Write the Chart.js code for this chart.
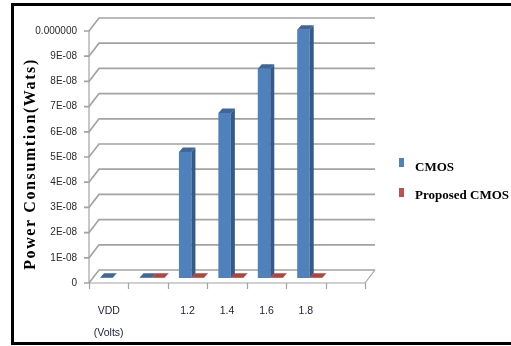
<!DOCTYPE html>
<html>
<head>
<meta charset="utf-8">
<script src="https://cdn.jsdelivr.net/npm/chart.js@4.4.1/dist/chart.umd.min.js"></script>
<style>
  html, body { margin: 0; padding: 0; background: #fff; overflow: hidden; width: 511px; height: 346px; }
  #frame { position: absolute; left: 11px; top: 3px; width: 520px; height: 336px; border: 3px solid #000; }
  #wrap { position: absolute; left: 0; top: 0; width: 511px; height: 346px; }
</style>
</head>
<body>
<div id="frame"></div>
<div id="wrap"><canvas id="c" width="511" height="346"></canvas></div>
<script>
// Supply voltage categories (first slot carries the axis caption)
const categories = [["VDD", "(Volts)"], "", "1.2", "1.4", "1.6", "1.8", ""];

// Power consumption in watts
const cmosPower     = [1e-10, 1e-10, 5.0e-8, 6.55e-8, 8.3e-8, 9.85e-8, null];
const proposedPower = [null, 1e-10, 1e-10, 1e-10, 1e-10, 1e-10, null];

const seriesNames = ["CMOS", "Proposed CMOS"];
const yTickLabels = ["0", "1E-08", "2E-08", "3E-08", "4E-08", "5E-08",
                     "6E-08", "7E-08", "8E-08", "9E-08", "0.000000"];
const yTitle = "Power Consumtion(Wats)";

// pseudo-3D look: back wall offset, bar plane offset and bar depth
const WALL = { x: 10, y: -13 };
const PLANE = { x: 3.85, y: -5 };
const DEPTH = { x: 4, y: -4.5 };
const GRID = "#a3a3a3";
const TICK_FONT = "'Liberation Sans', Arial, sans-serif";

const faceColors = [
  { front: "#4f81bd", side: "#34598a", top: "#3e6698" },
  { front: "#c0504d", side: "#8f3a37", top: "#b0443f" }
];

const box3d = {
  id: "box3d",
  beforeDatasetsDraw(chart) {
    const { ctx, chartArea: a, scales } = chart;
    const ys = scales.y;
    ctx.save();
    ctx.strokeStyle = GRID;
    ctx.lineWidth = 1.7;
    // back wall gridlines with their connectors to the front axis
    ys.ticks.forEach(t => {
      const y = ys.getPixelForValue(t.value);
      ctx.beginPath();
      ctx.moveTo(a.left - 5, y);
      ctx.lineTo(a.left, y);
      ctx.lineTo(a.left + WALL.x, y + WALL.y);
      ctx.lineTo(a.right + WALL.x, y + WALL.y);
      ctx.stroke();
    });
    ctx.lineWidth = 1.2;
    // front value axis
    ctx.beginPath();
    ctx.moveTo(a.left, a.top);
    ctx.lineTo(a.left, a.bottom);
    ctx.stroke();
    // floor front edge and right edge
    ctx.beginPath();
    ctx.moveTo(a.left, a.bottom);
    ctx.lineTo(a.right, a.bottom);
    ctx.lineTo(a.right + WALL.x, a.bottom + WALL.y);
    ctx.stroke();
    // category boundary ticks
    const n = categories.length;
    const cw = (a.right - a.left) / n;
    for (let i = 0; i <= n; i++) {
      const x = Math.round(a.left + i * cw) + 0.5;
      ctx.beginPath();
      ctx.moveTo(x, a.bottom);
      ctx.lineTo(x, a.bottom + 6);
      ctx.stroke();
    }
    ctx.restore();
    // bars sit part way into the depth
    ctx.save();
    ctx.translate(PLANE.x, PLANE.y);
  },
  afterDatasetsDraw(chart) {
    const { ctx } = chart;
    const n = categories.length;
    for (let i = 0; i < n; i++) {
      chart.data.datasets.forEach((ds, di) => {
        const meta = chart.getDatasetMeta(di);
        const el = meta.data[i];
        if (!el || ds.data[i] == null) return;
        const p = el.getProps(["x", "y", "base", "width"], true);
        const l = p.x - p.width / 2, r = p.x + p.width / 2;
        const top = Math.min(p.y, p.base), base = Math.max(p.y, p.base);
        const c = faceColors[di];
        ctx.fillStyle = c.side;
        ctx.beginPath();
        ctx.moveTo(r, top);
        ctx.lineTo(r + DEPTH.x, top + DEPTH.y);
        ctx.lineTo(r + DEPTH.x, base + DEPTH.y);
        ctx.lineTo(r, base);
        ctx.closePath();
        ctx.fill();
        ctx.fillStyle = c.top;
        ctx.beginPath();
        ctx.moveTo(l, top);
        ctx.lineTo(r, top);
        ctx.lineTo(r + DEPTH.x, top + DEPTH.y);
        ctx.lineTo(l + DEPTH.x, top + DEPTH.y);
        ctx.closePath();
        ctx.fill();
      });
    }
    ctx.restore();
  },
  afterDraw(chart) {
    const { ctx } = chart;
    ctx.save();
    // value axis title
    ctx.translate(31, 164);
    ctx.rotate(-Math.PI / 2);
    ctx.font = "bold 16px 'Liberation Serif', 'Times New Roman', serif";
    if ("letterSpacing" in ctx) ctx.letterSpacing = "1.6px";
    ctx.fillStyle = "#000";
    ctx.textAlign = "center";
    ctx.textBaseline = "middle";
    ctx.fillText(yTitle, 0, 0);
    ctx.restore();
    // legend
    ctx.save();
    ctx.font = "bold 13px 'Liberation Serif', 'Times New Roman', serif";
    ctx.textBaseline = "middle";
    ctx.textAlign = "left";
    const rows = [{ sq: 158, ty: 168 }, { sq: 188, ty: 196 }];
    chart.data.datasets.forEach((ds, di) => {
      ctx.fillStyle = ds.backgroundColor;
      ctx.fillRect(399, rows[di].sq, 5, 9);
      ctx.fillStyle = "#000";
      ctx.fillText(ds.label, 415, rows[di].ty);
    });
    ctx.restore();
  }
};

new Chart(document.getElementById("c"), {
  type: "bar",
  data: {
    labels: categories,
    datasets: [
      { label: seriesNames[0], data: cmosPower, backgroundColor: faceColors[0].front, clip: false },
      { label: seriesNames[1], data: proposedPower, backgroundColor: faceColors[1].front, clip: false }
    ]
  },
  options: {
    responsive: false,
    animation: false,
    devicePixelRatio: 1,
    layout: { padding: { left: 0, top: 31, right: 146, bottom: 0 } },
    datasets: { bar: { categoryPercentage: 0.634, barPercentage: 1.0, borderWidth: 0 } },
    plugins: { legend: { display: false }, tooltip: { enabled: false } },
    scales: {
      x: {
        grid: { display: false },
        border: { display: false },
        ticks: {
          autoSkip: false, maxRotation: 0, padding: 9, color: "#1c1c3a",
          font: { family: TICK_FONT, size: 10.5, lineHeight: 2.1 }
        },
        afterFit(s) { s.height = 63; }
      },
      y: {
        min: 0, max: 1e-7,
        grid: { display: false, drawTicks: false },
        border: { display: false },
        ticks: {
          stepSize: 1e-8, padding: 12, color: "#2a2a2a",
          font: { family: TICK_FONT, size: 10 },
          callback: (v, i) => yTickLabels[i]
        },
        afterFit(s) { s.width = 89; }
      }
    }
  },
  plugins: [box3d]
});
</script>
</body>
</html>
